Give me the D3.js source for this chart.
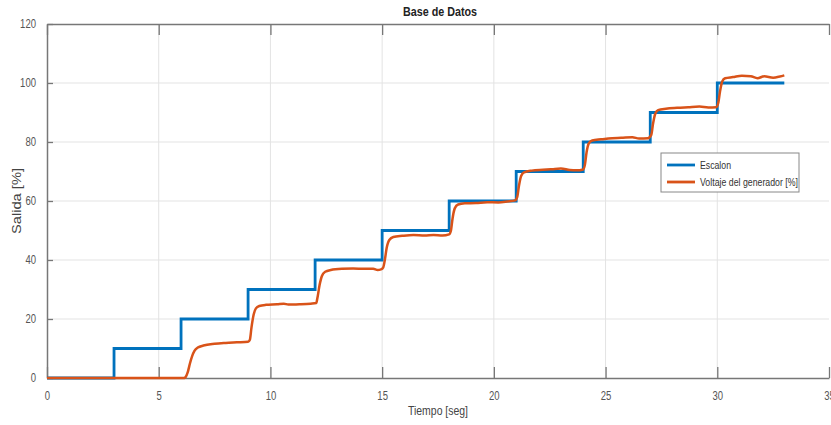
<!DOCTYPE html>
<html>
<head>
<meta charset="utf-8">
<script src="https://cdn.jsdelivr.net/npm/d3@7"></script>
<style>
  body { margin: 0; background: #fff; }
  svg text { font-family: 'Liberation Sans Narrow', 'Arial Narrow', 'Liberation Sans', Arial, sans-serif; }
</style>
</head>
<body>
<svg id="chart"></svg>
<script>
// Data
const stepTime = [0, 3, 6, 9, 12, 15, 18, 21, 24, 27, 30, 33];
const stepValue = [0, 10, 20, 30, 40, 50, 60, 70, 80, 90, 100, 100];

const genTime = [0, 6.15, 6.2, 6.3, 6.4, 6.5, 6.6, 6.75, 7.0, 7.5, 8.0, 8.5, 9.0,
  9.08, 9.15, 9.25, 9.35, 9.5, 9.8, 10.3, 10.6, 10.8, 11.3, 11.8, 12.05,
  12.1, 12.2, 12.3, 12.45, 12.7, 13.2, 13.7, 14.2, 14.6, 14.8, 14.95, 15.05,
  15.12, 15.2, 15.32, 15.5, 15.9, 16.4, 16.9, 17.3, 17.7, 18.0,
  18.08, 18.15, 18.25, 18.4, 18.7, 19.2, 19.7, 20.2, 20.6, 20.95,
  21.05, 21.12, 21.22, 21.35, 21.7, 22.2, 22.6, 23.0, 23.4, 23.7, 24.0,
  24.08, 24.15, 24.25, 24.4, 24.8, 25.3, 25.7, 26.2, 26.5, 26.9,
  27.05, 27.12, 27.22, 27.35, 27.7, 28.2, 28.7, 29.2, 29.6, 29.95,
  30.05, 30.12, 30.22, 30.35, 30.7, 31.1, 31.5, 31.8, 32.1, 32.5, 32.8, 33.0];
const genValue = [0, 0, 0.3, 2, 5, 7.5, 9.2, 10.3, 11.0, 11.6, 11.9, 12.1, 12.3,
  13, 17, 21.5, 23.6, 24.4, 24.8, 25.0, 25.2, 24.9, 25.0, 25.2, 25.4,
  27, 31.5, 34.5, 36, 36.6, 37, 37.1, 37.0, 37.0, 36.6, 36.8, 37.5,
  40, 44, 46.8, 47.8, 48.2, 48.5, 48.3, 48.5, 48.3, 48.7,
  50, 54, 57.5, 58.8, 59.2, 59.3, 59.6, 59.5, 59.8, 60.2,
  61.5, 65, 68.5, 69.7, 70.3, 70.6, 70.8, 71.0, 70.5, 70.4, 70.7,
  72.5, 76.5, 79.5, 80.5, 80.9, 81.3, 81.4, 81.6, 81.2, 81.3,
  82.5, 86, 89.5, 90.8, 91.3, 91.6, 91.8, 92.0, 91.7, 91.8,
  93.5, 97, 100.5, 101.6, 102.0, 102.5, 102.3, 101.6, 102.3, 101.8, 102.2, 102.6];

const xTicks = [0, 5, 10, 15, 20, 25, 30, 35];
const yTicks = [0, 20, 40, 60, 80, 100, 120];
const seriesNames = ['Escalon', 'Voltaje del generador [%]'];
const seriesColors = ['#0072BD', '#D95319'];

// Dimensions
const width = 831;
const height = 425;
const plotLeft = 47, plotRight = 829, plotTop = 24, plotBottom = 378;

const svg = d3.select('#chart')
  .attr('width', width)
  .attr('height', height);

// squeeze text so it looks like the narrow font of the original
function narrow(sel, perChar) {
  sel.each(function() {
    const t = d3.select(this);
    const n = t.text().length;
    if (n) t.attr('textLength', n * perChar).attr('lengthAdjust', 'spacingAndGlyphs');
  });
}

// Scales
const xScale = d3.scaleLinear().domain([0, 35]).range([plotLeft, plotRight]);
const yScale = d3.scaleLinear().domain([0, 120]).range([plotBottom, plotTop]);

// Grid
svg.append('g').selectAll('line')
  .data(xTicks.slice(1, -1))
  .enter().append('line')
  .attr('x1', d => xScale(d)).attr('x2', d => xScale(d))
  .attr('y1', plotTop).attr('y2', plotBottom)
  .attr('stroke', '#e3e3e3').attr('stroke-width', 1);

svg.append('g').selectAll('line')
  .data(yTicks.slice(1, -1))
  .enter().append('line')
  .attr('x1', plotLeft).attr('x2', plotRight)
  .attr('y1', d => yScale(d)).attr('y2', d => yScale(d))
  .attr('stroke', '#e3e3e3').attr('stroke-width', 1);

// Axes
const axisColor = '#777';
const xAxis = d3.axisBottom(xScale).tickValues(xTicks).tickSize(-11).tickPadding(13).tickSizeOuter(0);
const yAxis = d3.axisLeft(yScale).tickValues(yTicks).tickSize(-6).tickPadding(11).tickSizeOuter(0);
const xTop = d3.axisTop(xScale).tickValues(xTicks).tickSize(-11).tickFormat('').tickSizeOuter(0);

const gx = svg.append('g').attr('transform', `translate(0, ${plotBottom})`).call(xAxis);
const gy = svg.append('g').attr('transform', `translate(${plotLeft}, 0)`).call(yAxis);
const gt = svg.append('g').attr('transform', `translate(0, ${plotTop})`).call(xTop);

[gx, gy, gt].forEach(g => {
  g.selectAll('.domain').attr('stroke', axisColor).attr('stroke-width', 1.5);
  g.selectAll('.tick line').attr('stroke', axisColor).attr('stroke-width', 1.3);
  g.selectAll('.tick text').attr('fill', '#555').style('font-size', '12px').call(narrow, 5.3);
});

// Lines
const stepLine = d3.line()
  .x((d, i) => xScale(stepTime[i]))
  .y(d => yScale(d))
  .curve(d3.curveStepAfter);

const genLine = d3.line()
  .x((d, i) => xScale(genTime[i]))
  .y(d => yScale(d))
  .curve(d3.curveMonotoneX);

svg.append('path')
  .datum(stepValue)
  .attr('d', stepLine)
  .attr('fill', 'none')
  .attr('stroke', seriesColors[0])
  .attr('stroke-width', 2.8);

svg.append('path')
  .datum(genValue)
  .attr('d', genLine)
  .attr('fill', 'none')
  .attr('stroke', seriesColors[1])
  .attr('stroke-width', 2.5);

// Title and labels
svg.append('text')
  .attr('x', 440).attr('y', 16)
  .attr('text-anchor', 'middle')
  .style('font-size', '13px').style('font-weight', 'bold')
  .attr('fill', '#222')
  .attr('textLength', 74).attr('lengthAdjust', 'spacingAndGlyphs')
  .text('Base de Datos');

svg.append('text')
  .attr('x', 438).attr('y', 415)
  .attr('text-anchor', 'middle')
  .style('font-size', '13px')
  .attr('fill', '#444')
  .attr('textLength', 60).attr('lengthAdjust', 'spacingAndGlyphs')
  .text('Tiempo [seg]');

svg.append('text')
  .attr('transform', 'translate(21, 201) rotate(-90)')
  .attr('text-anchor', 'middle')
  .style('font-size', '13px')
  .attr('fill', '#444')
  .attr('textLength', 66).attr('lengthAdjust', 'spacingAndGlyphs')
  .text('Salida [%]');

// Legend
const legend = svg.append('g').attr('transform', 'translate(661, 153)');
legend.append('rect')
  .attr('width', 138).attr('height', 39)
  .attr('fill', '#fff').attr('stroke', '#888').attr('stroke-width', 1);

const legendWidths = [31, 98];
legend.selectAll('.entry')
  .data(seriesNames)
  .enter().append('g')
  .attr('class', 'entry')
  .attr('transform', (d, i) => `translate(0, ${12 + i * 17})`)
  .each(function(d, i) {
    const g = d3.select(this);
    g.append('line')
      .attr('x1', 6).attr('x2', 34)
      .attr('stroke', seriesColors[i]).attr('stroke-width', 2.8);
    g.append('text')
      .attr('x', 39).attr('y', 4)
      .style('font-size', '11px')
      .attr('fill', '#333')
      .attr('textLength', legendWidths[i]).attr('lengthAdjust', 'spacingAndGlyphs')
      .text(d);
  });
</script>
</body>
</html>
